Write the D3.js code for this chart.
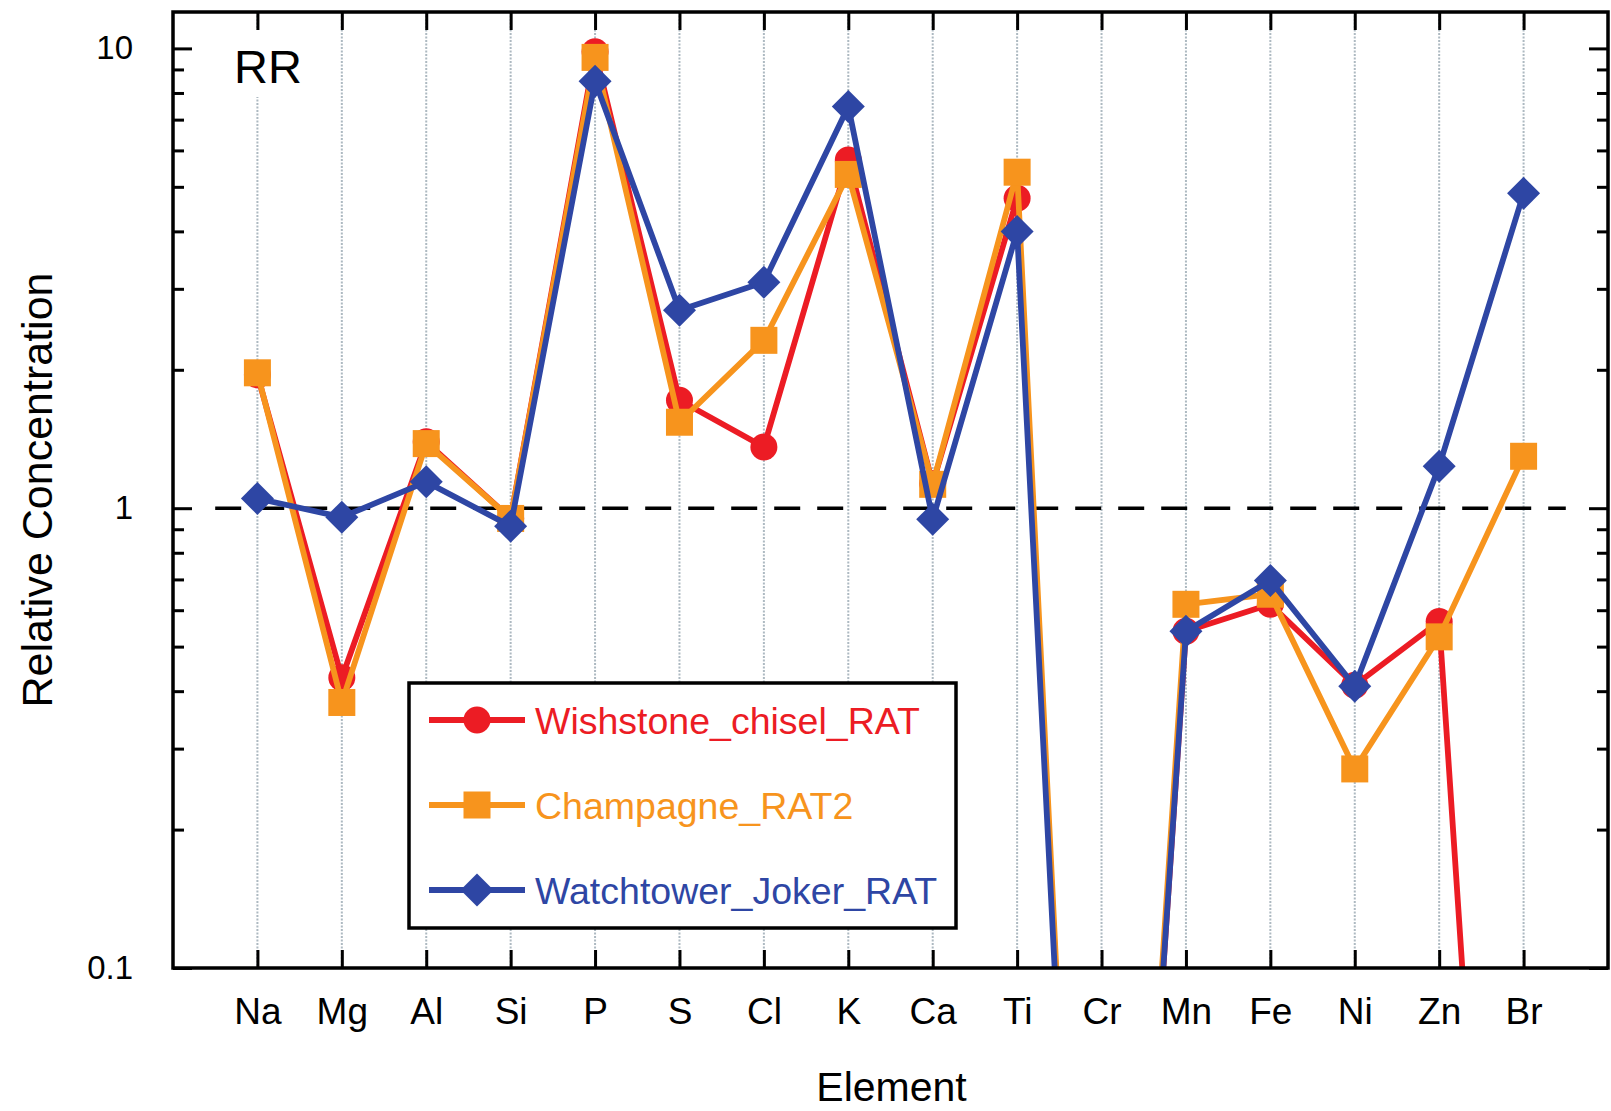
<!DOCTYPE html>
<html>
<head>
<meta charset="utf-8">
<script src="https://cdn.jsdelivr.net/npm/d3@7"></script>
<style>
  html, body { margin: 0; padding: 0; background: #ffffff; }
  svg { display: block; font-family: "Liberation Sans", Arial, Helvetica, sans-serif; }
</style>
</head>
<body>
<svg id="chart" width="1611" height="1111"></svg>
<script>
// Elements along the x axis
const elements = ["Na","Mg","Al","Si","P","S","Cl","K","Ca","Ti","Cr","Mn","Fe","Ni","Zn","Br"];

// Relative concentrations per sample (values below 0.1 fall off the plot)
const wishstoneChisel = [1.95, 0.428, 1.394, 0.95, 9.83, 1.717, 1.359, 5.72, 1.13, 4.72, 0.001, 0.54, 0.618, 0.412, 0.567, 0.001];
const champagneRat2   = [1.97, 0.378, 1.382, 0.95, 9.56, 1.538, 2.318, 5.32, 1.127, 5.38, 0.001, 0.618, 0.65, 0.271, 0.525, 1.297];
const watchtowerJoker = [1.05, 0.956, 1.141, 0.914, 8.48, 2.694, 3.10, 7.48, 0.946, 4.0, 0.001, 0.54, 0.696, 0.41, 1.234, 4.84];

const seriesNames = ["Wishstone_chisel_RAT", "Champagne_RAT2", "Watchtower_Joker_RAT"];
const seriesValues = [wishstoneChisel, champagneRat2, watchtowerJoker];

// Y axis ticks
const yMajorTicks = [0.1, 1, 10];
const yMinorTicks = [0.2,0.3,0.4,0.5,0.6,0.7,0.8,0.9, 2,3,4,5,6,7,8,9];
const yTickLabels = ["0.1", "1", "10"];

const colors = ["#ec1c24", "#f7941d", "#2e46a4"];
const shapes = ["circle", "square", "diamond"];

const svg = d3.select("#chart");
const plotLeft = 173, plotRight = 1608, plotTop = 12, plotBottom = 968;

const x = d3.scalePoint().domain(elements).range([plotLeft, plotRight]).padding(1);
const y = d3.scaleLog().domain([0.1, 12]).range([plotBottom, plotTop]);

// clip region for the data
svg.append("defs").append("clipPath").attr("id", "plotClip")
  .append("rect").attr("x", plotLeft).attr("y", plotTop)
  .attr("width", plotRight - plotLeft).attr("height", plotBottom - plotTop);

// vertical dotted gridlines at each element
svg.append("g").selectAll("line").data(elements).join("line")
  .attr("x1", d => x(d)).attr("x2", d => x(d))
  .attr("y1", plotTop).attr("y2", plotBottom)
  .attr("stroke", "#adb9c1").attr("stroke-width", 2)
  .attr("stroke-dasharray", "2,1.5");

// panel label with a white knock-out behind it
svg.append("rect").attr("x", 226).attr("y", 30).attr("width", 88).attr("height", 67).attr("fill", "#ffffff");
svg.append("text").attr("x", 234).attr("y", 83)
  .attr("font-size", 47).attr("fill", "#000").text("RR");

// reference line at relative concentration 1
const step = x.step();
svg.append("line")
  .attr("x1", x(elements[0]) - step / 2).attr("x2", x(elements[elements.length - 1]) + step / 2)
  .attr("y1", y(1)).attr("y2", y(1))
  .attr("stroke", "#000").attr("stroke-width", 3.5)
  .attr("stroke-dasharray", "26,17");

// series lines and markers
const line = d3.line().x((d, i) => x(elements[i])).y(d => y(d));
const dataLayer = svg.append("g").attr("clip-path", "url(#plotClip)");

function drawMarker(g, shape, cx, cy, color) {
  if (shape === "circle") {
    g.append("circle").attr("cx", cx).attr("cy", cy).attr("r", 13.5).attr("fill", color);
  } else if (shape === "square") {
    g.append("rect").attr("x", cx - 13.5).attr("y", cy - 13.5).attr("width", 27).attr("height", 27).attr("fill", color);
  } else {
    const h = 16.5;
    g.append("path").attr("d", `M${cx},${cy - h}L${cx + h},${cy}L${cx},${cy + h}L${cx - h},${cy}Z`).attr("fill", color);
  }
}

seriesValues.forEach((vals, s) => {
  const g = dataLayer.append("g");
  g.append("path").datum(vals).attr("d", line)
    .attr("fill", "none").attr("stroke", colors[s]).attr("stroke-width", 5.8)
    .attr("stroke-linejoin", "round");
  vals.forEach((v, i) => {
    if (v >= 0.1) drawMarker(g, shapes[s], x(elements[i]), y(v), colors[s]);
  });
});

// axes (ticks pointing inward)
function styleAxis(g) {
  g.select(".domain").remove();
  g.selectAll(".tick line").attr("stroke", "#000").attr("stroke-width", 3);
}

svg.append("g").attr("transform", `translate(${plotLeft},0)`)
  .call(d3.axisLeft(y).tickValues(yMajorTicks).tickSize(-19).tickPadding(40)
    .tickFormat((d, i) => yTickLabels[i]))
  .call(styleAxis)
  .call(g => g.selectAll("text").attr("font-size", 33).attr("fill", "#000")
    .attr("font-family", "Liberation Sans, Arial, sans-serif"));

svg.append("g").attr("transform", `translate(${plotLeft},0)`)
  .call(d3.axisLeft(y).tickValues(yMinorTicks).tickSize(-11).tickFormat(""))
  .call(styleAxis);

svg.append("g").attr("transform", `translate(${plotRight},0)`)
  .call(d3.axisRight(y).tickValues(yMajorTicks).tickSize(-19).tickFormat(""))
  .call(styleAxis);

svg.append("g").attr("transform", `translate(${plotRight},0)`)
  .call(d3.axisRight(y).tickValues(yMinorTicks).tickSize(-11).tickFormat(""))
  .call(styleAxis);

svg.append("g").attr("transform", `translate(0,${plotBottom})`)
  .call(d3.axisBottom(x).tickSize(-18).tickPadding(30))
  .call(styleAxis)
  .call(g => g.selectAll("text").attr("font-size", 37).attr("fill", "#000")
    .attr("font-family", "Liberation Sans, Arial, sans-serif"));

svg.append("g").attr("transform", `translate(0,${plotTop})`)
  .call(d3.axisTop(x).tickSize(-18).tickFormat(""))
  .call(styleAxis);

// plot frame
svg.append("rect").attr("x", plotLeft).attr("y", plotTop)
  .attr("width", plotRight - plotLeft).attr("height", plotBottom - plotTop)
  .attr("fill", "none").attr("stroke", "#000").attr("stroke-width", 3.5);

// axis titles
svg.append("text").attr("x", (plotLeft + plotRight) / 2 + 1).attr("y", 1101)
  .attr("text-anchor", "middle").attr("font-size", 41).attr("fill", "#000")
  .text("Element");

svg.append("text").attr("transform", "translate(52,490) rotate(-90)")
  .attr("text-anchor", "middle").attr("font-size", 43).attr("fill", "#000")
  .text("Relative Concentration");

// legend
const legend = svg.append("g");
legend.append("rect").attr("x", 409).attr("y", 683).attr("width", 547).attr("height", 245)
  .attr("fill", "#ffffff").attr("stroke", "#000").attr("stroke-width", 3.5);
const rowY = [720, 805, 890];
seriesNames.forEach((name, s) => {
  const ly = rowY[s];
  legend.append("line").attr("x1", 429).attr("x2", 525).attr("y1", ly).attr("y2", ly)
    .attr("stroke", colors[s]).attr("stroke-width", 5.8);
  drawMarker(legend, shapes[s], 477, ly, colors[s]);
  legend.append("text").attr("x", 535).attr("y", ly + 14)
    .attr("font-size", 37.5).attr("fill", colors[s]).text(name);
});
</script>
</body>
</html>
